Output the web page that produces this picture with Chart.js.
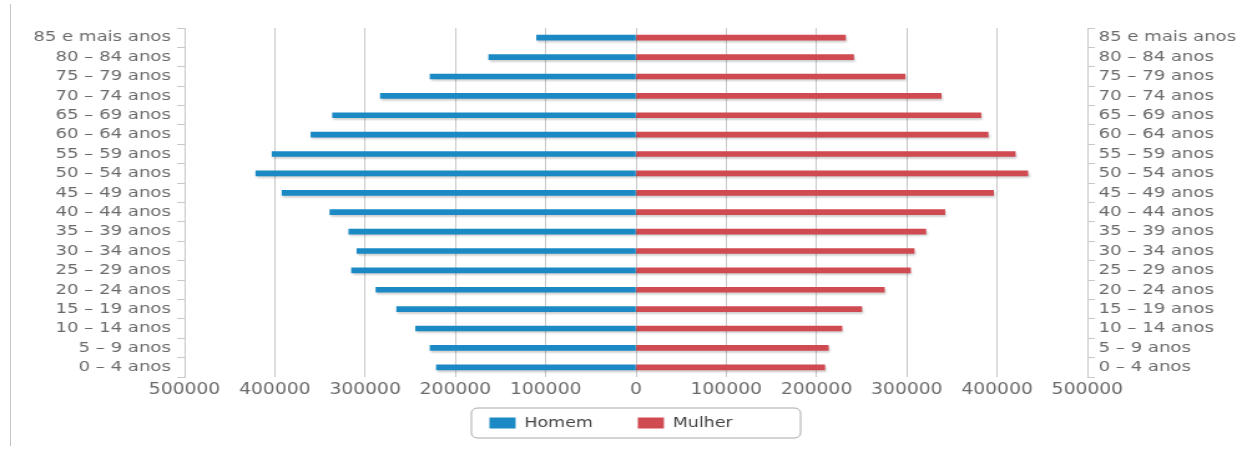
<!DOCTYPE html>
<html>
<head>
<meta charset="utf-8">
<script src="https://cdn.jsdelivr.net/npm/chart.js@4/dist/chart.umd.min.js"></script>
<style>
  body { margin: 0; background: #fff; }
  #edge { position: absolute; left: 10px; top: 4px; width: 1px; height: 442px; background: #c4c4c4; }
  #wrap { position: absolute; left: 0; top: 0; width: 1000px; height: 450px; transform: scaleX(1.247); transform-origin: 0 0; }
</style>
</head>
<body>
<div id="edge"></div>
<div id="wrap"><canvas id="myChart"></canvas></div>
<script>
// age groups, oldest on top
const faixas = ['85 e mais anos', '80 – 84 anos', '75 – 79 anos', '70 – 74 anos', '65 – 69 anos',
  '60 – 64 anos', '55 – 59 anos', '50 – 54 anos', '45 – 49 anos', '40 – 44 anos', '35 – 39 anos',
  '30 – 34 anos', '25 – 29 anos', '20 – 24 anos', '15 – 19 anos', '10 – 14 anos', '5 – 9 anos', '0 – 4 anos'];
const homem = [110000, 163000, 228000, 283000, 336000, 360000, 403000, 421000, 392000,
  339000, 318000, 309000, 315000, 288000, 265000, 244000, 228000, 221000];
const mulher = [232000, 241000, 298000, 338000, 382000, 390000, 420000, 434000, 396000,
  342000, 321000, 308000, 304000, 275000, 250000, 228000, 213000, 209000];
const xMin = -500000;
const xMax = 500000;
const xStep = 100000;

const gray = '#c8c8c8';
const labelColor = '#6a6a6a';

// shadow under the bars + legend placement and the rounded box round it
const extras = {
  id: 'extras',
  afterLayout(chart) {
    const lg = chart.legend;
    const cx = chart.scales.x.getPixelForValue(0);
    const shift = (cx - 20) - (lg.left + lg.right) / 2;
    lg.left += shift;
    lg.right += shift;
    lg.top = chart.chartArea.bottom + 3;
    lg.bottom = lg.top + 60;
  },
  beforeDatasetsDraw(chart) {
    const c = chart.ctx;
    c.save();
    c.shadowColor = 'rgba(0,0,0,0.18)';
    c.shadowOffsetX = 1;
    c.shadowOffsetY = 2;
    c.shadowBlur = 2;
  },
  afterDatasetsDraw(chart) {
    chart.ctx.restore();
  },
  afterDraw(chart) {
    const c = chart.ctx;
    const lg = chart.legend;
    const cx = chart.scales.x.getPixelForValue(0);
    const cy = lg.top + lg.options.labels.padding + 7;
    c.save();
    c.strokeStyle = '#a8a8a8';
    c.lineWidth = 1;
    c.beginPath();
    c.roundRect(cx - 132, cy - 15, 264, 30, 5);
    c.stroke();
    c.restore();
  }
};

const ctx = document.getElementById('myChart');
new Chart(ctx, {
  type: 'bar',
  data: {
    labels: faixas,
    datasets: [{
      label: 'Homem',
      data: homem.map(v => -v),
      backgroundColor: '#1b89c4',
      barThickness: 5
    }, {
      label: 'Mulher',
      data: mulher,
      backgroundColor: '#cf4a51',
      barThickness: 5
    }]
  },
  options: {
    indexAxis: 'y',
    responsive: true,
    maintainAspectRatio: false,
    animation: false,
    layout: { padding: { top: 28, left: 0, right: 0, bottom: 0 } },
    scales: {
      x: {
        stacked: true,
        min: xMin,
        max: xMax,
        grid: { color: gray, drawTicks: false },
        border: { display: false },
        ticks: {
          stepSize: xStep,
          autoSkip: false,
          maxRotation: 0,
          padding: 4,
          color: labelColor,
          font: { family: 'DejaVu Sans', size: 15 },
          callback: v => String(Math.abs(v))
        },
        afterFit: s => { s.height = 20; }
      },
      y: {
        stacked: true,
        position: 'left',
        offset: true,
        grid: { offset: true, drawOnChartArea: false, drawTicks: true, tickLength: 6, color: gray },
        border: { display: true, color: gray },
        ticks: {
          autoSkip: false,
          padding: 5,
          color: labelColor,
          font: { family: 'DejaVu Sans', size: 14.5 }
        },
        afterFit: s => { s.width = 148; }
      },
      y2: {
        type: 'category',
        position: 'right',
        offset: true,
        grid: { offset: true, drawOnChartArea: false, drawTicks: true, tickLength: 6, color: gray },
        border: { display: true, color: gray },
        ticks: {
          autoSkip: false,
          padding: 3,
          color: labelColor,
          font: { family: 'DejaVu Sans', size: 14.5 }
        },
        afterFit: s => { s.width = 128; }
      }
    },
    plugins: {
      tooltip: { enabled: false },
      legend: {
        position: 'bottom',
        maxHeight: 53,
        labels: {
          boxWidth: 21,
          boxHeight: 11,
          padding: 36,
          color: '#444',
          font: { family: 'DejaVu Sans', size: 14 }
        }
      }
    }
  },
  plugins: [extras]
});
</script>
</body>
</html>
